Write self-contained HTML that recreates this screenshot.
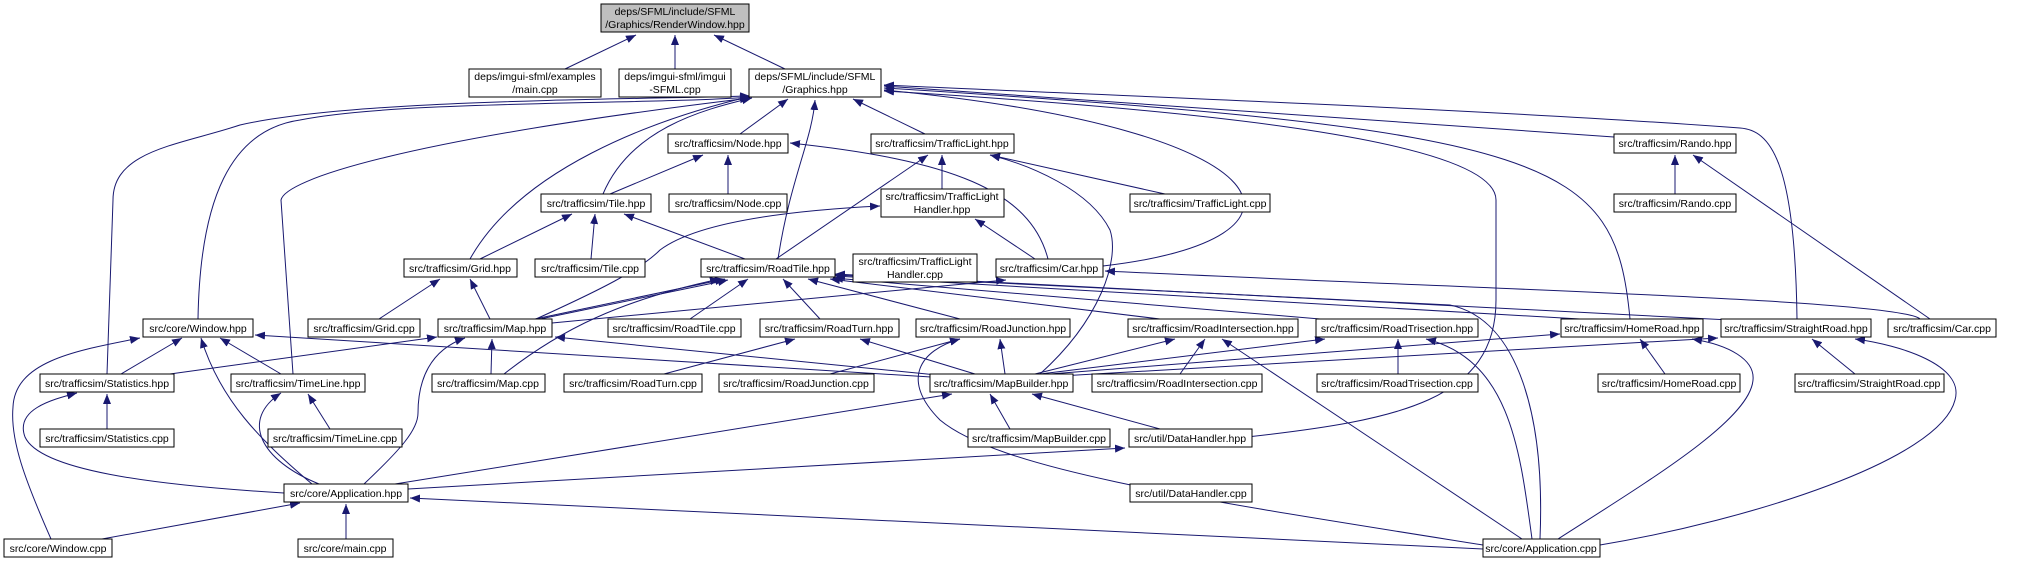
<!DOCTYPE html>
<html><head><meta charset="utf-8"><style>
html,body{margin:0;padding:0;background:#fff;}
svg{display:block;}
text{font-family:"Liberation Sans",sans-serif;font-size:10.5px;fill:#000;}
.b{fill:#fff;stroke:#000;stroke-width:1;}
.e{fill:none;stroke:#191970;stroke-width:1;}
</style></head><body>
<svg width="2019" height="562" viewBox="0 0 2019 562" xmlns="http://www.w3.org/2000/svg">
<defs><marker id="a" markerUnits="userSpaceOnUse" markerWidth="12" markerHeight="10" refX="10" refY="4" orient="auto"><path d="M0,0 L10,4 L0,8 z" fill="#191970"/></marker></defs>
<g class="e" marker-end="url(#a)">
<path d="M565,69 L636,35"/><path d="M675,69 L675,35"/><path d="M785,69 L714,35"/>
<path d="M740,134 L788,99"/><path d="M925,134 L853,99"/>
<path d="M603,194 C630,130 700,110 752,98"/>
<path d="M470,259 C520,170 650,120 752,96"/>
<path d="M778,259 C790,180 812,140 815,100"/>
<path d="M1103,266 C1330,240 1300,130 884,90"/>
<path d="M1614,137 L884,86"/>
<path d="M1630,319 C1615,160 1560,130 884,88"/>
<path d="M1797,319 C1795,160 1770,130 1740,128 C1500,110 1100,95 884,85"/>
<path d="M1247,437 C1400,420 1496,400 1496,300 L1496,200 C1496,140 1200,110 884,91"/>
<path d="M107,374 L113,200 C113,150 180,145 240,125 C350,100 600,100 750,96"/>
<path d="M198,319 C200,200 230,130 300,120 C400,100 650,105 750,97"/>
<path d="M293,374 L281,200 C285,180 400,140 750,98"/>
<path d="M610,194 L703,155"/><path d="M728,194 L728,155"/>
<path d="M1048,259 C1030,190 950,160 790,143"/>
<path d="M942,189 L942,155"/><path d="M1165,194 L990,155"/>
<path d="M776,259 L928,155"/>
<path d="M1040,374 C1100,320 1120,260 1110,230 C1090,190 1030,165 990,155"/>
<path d="M1035,259 L975,219"/>
<path d="M536,319 C600,290 640,270 660,250 C700,220 800,210 880,206"/>
<path d="M552,323 L1006,280"/>
<path d="M1920,319 C1900,300 1500,290 1105,271"/>
<path d="M1930,319 L1693,155"/><path d="M1675,194 L1675,155"/>
<path d="M480,259 L572,214"/><path d="M591,259 L595,214"/><path d="M745,259 L624,214"/>
<path d="M535,319 L725,279"/><path d="M540,319 L728,280"/>
<path d="M504,374 C560,330 620,300 720,279"/>
<path d="M690,319 L748,279"/><path d="M820,319 L783,279"/>
<path d="M960,319 L808,279"/><path d="M1160,319 L830,279"/>
<path d="M1320,319 L833,278"/><path d="M1580,319 L835,276"/>
<path d="M1730,320 L835,274"/>
<path d="M1540,539 C1545,420 1520,320 1450,305 L835,275"/>
<path d="M1522,539 L1222,339"/>
<path d="M1532,539 C1520,450 1510,360 1426,339"/>
<path d="M1483,545 C1200,500 1000,470 940,420 C900,380 920,350 960,339"/>
<path d="M1483,549 L410,498"/>
<path d="M395,484 L952,394"/>
<path d="M408,489 L1125,448"/>
<path d="M1010,429 L990,394"/><path d="M1160,429 L1032,394"/>
<path d="M1035,374 L1175,339"/><path d="M1180,374 L1205,339"/>
<path d="M1040,374 L1325,339"/><path d="M1398,374 L1398,339"/>
<path d="M1050,374 L1560,334"/><path d="M1665,374 L1640,339"/>
<path d="M1060,376 L1718,338"/><path d="M1855,374 L1812,339"/>
<path d="M1558,539 C1650,480 1750,420 1753,380 C1755,360 1730,345 1692,339"/>
<path d="M1600,545 C1750,520 1940,460 1955,400 C1965,365 1900,345 1855,339"/>
<path d="M664,374 L795,339"/><path d="M975,374 L860,339"/>
<path d="M830,374 L960,339"/><path d="M1005,374 L1000,339"/>
<path d="M491,374 L492,339"/><path d="M170,374 L437,337"/>
<path d="M364,484 C400,450 418,430 418,413 C418,380 430,350 465,338"/>
<path d="M937,375 L555,337"/>
<path d="M931,377 L255,335"/>
<path d="M121,374 L182,338"/><path d="M281,374 L220,338"/>
<path d="M312,484 C260,440 220,400 201,338"/>
<path d="M51,539 C25,480 10,440 13,407 C15,360 80,350 140,338"/>
<path d="M379,319 L440,279"/><path d="M490,319 L470,279"/>
<path d="M107,429 L107,394"/>
<path d="M284,493 C150,485 40,470 25,437 C15,410 50,400 77,393"/>
<path d="M330,429 L308,394"/>
<path d="M319,484 C260,460 240,420 281,393"/>
<path d="M346,539 L346,504"/><path d="M102,539 L300,503"/>
</g>
<g>
<rect class="b" x="601" y="4" width="148" height="28" style="fill:#bfbfbf"/>
<text x="675" y="15" text-anchor="middle">deps/SFML/include/SFML</text><text x="675" y="28" text-anchor="middle">/Graphics/RenderWindow.hpp</text>
<rect class="b" x="469" y="69" width="132" height="28"/><text x="535" y="80" text-anchor="middle">deps/imgui-sfml/examples</text><text x="535" y="93" text-anchor="middle">/main.cpp</text>
<rect class="b" x="619" y="69" width="112" height="28"/><text x="675" y="80" text-anchor="middle">deps/imgui-sfml/imgui</text><text x="675" y="93" text-anchor="middle">-SFML.cpp</text>
<rect class="b" x="749" y="69" width="132" height="28"/><text x="815" y="80" text-anchor="middle">deps/SFML/include/SFML</text><text x="815" y="93" text-anchor="middle">/Graphics.hpp</text>
<rect class="b" x="881" y="189" width="123" height="28"/><text x="942" y="200" text-anchor="middle">src/trafficsim/TrafficLight</text><text x="942" y="213" text-anchor="middle">Handler.hpp</text>
<rect class="b" x="853" y="254" width="124" height="28"/><text x="915" y="265" text-anchor="middle">src/trafficsim/TrafficLight</text><text x="915" y="278" text-anchor="middle">Handler.cpp</text>
</g>
<g id="n"></g>
<g>
<rect class="b" x="668" y="134" width="120" height="19"/><text x="728" y="147" text-anchor="middle">src/trafficsim/Node.hpp</text>
<rect class="b" x="871" y="134" width="143" height="19"/><text x="942" y="147" text-anchor="middle">src/trafficsim/TrafficLight.hpp</text>
<rect class="b" x="1614" y="134" width="122" height="19"/><text x="1675" y="147" text-anchor="middle">src/trafficsim/Rando.hpp</text>
<rect class="b" x="541" y="194" width="110" height="18"/><text x="596" y="207" text-anchor="middle">src/trafficsim/Tile.hpp</text>
<rect class="b" x="669" y="194" width="118" height="18"/><text x="728" y="207" text-anchor="middle">src/trafficsim/Node.cpp</text>
<rect class="b" x="1130" y="194" width="140" height="18"/><text x="1200" y="207" text-anchor="middle">src/trafficsim/TrafficLight.cpp</text>
<rect class="b" x="1614" y="194" width="122" height="18"/><text x="1675" y="207" text-anchor="middle">src/trafficsim/Rando.cpp</text>
<rect class="b" x="404" y="259" width="113" height="18"/><text x="460" y="272" text-anchor="middle">src/trafficsim/Grid.hpp</text>
<rect class="b" x="535" y="259" width="110" height="18"/><text x="590" y="272" text-anchor="middle">src/trafficsim/Tile.cpp</text>
<rect class="b" x="701" y="259" width="134" height="18"/><text x="768" y="272" text-anchor="middle">src/trafficsim/RoadTile.hpp</text>
<rect class="b" x="996" y="259" width="107" height="18"/><text x="1049" y="272" text-anchor="middle">src/trafficsim/Car.hpp</text>
<rect class="b" x="143" y="319" width="110" height="18"/><text x="198" y="332" text-anchor="middle">src/core/Window.hpp</text>
<rect class="b" x="308" y="319" width="112" height="18"/><text x="364" y="332" text-anchor="middle">src/trafficsim/Grid.cpp</text>
<rect class="b" x="438" y="319" width="114" height="18"/><text x="495" y="332" text-anchor="middle">src/trafficsim/Map.hpp</text>
<rect class="b" x="608" y="319" width="133" height="18"/><text x="674" y="332" text-anchor="middle">src/trafficsim/RoadTile.cpp</text>
<rect class="b" x="760" y="319" width="139" height="18"/><text x="829" y="332" text-anchor="middle">src/trafficsim/RoadTurn.hpp</text>
<rect class="b" x="916" y="319" width="154" height="18"/><text x="993" y="332" text-anchor="middle">src/trafficsim/RoadJunction.hpp</text>
<rect class="b" x="1128" y="319" width="170" height="18"/><text x="1213" y="332" text-anchor="middle">src/trafficsim/RoadIntersection.hpp</text>
<rect class="b" x="1316" y="319" width="162" height="18"/><text x="1397" y="332" text-anchor="middle">src/trafficsim/RoadTrisection.hpp</text>
<rect class="b" x="1561" y="319" width="142" height="18"/><text x="1632" y="332" text-anchor="middle">src/trafficsim/HomeRoad.hpp</text>
<rect class="b" x="1721" y="319" width="150" height="18"/><text x="1796" y="332" text-anchor="middle">src/trafficsim/StraightRoad.hpp</text>
<rect class="b" x="1888" y="319" width="108" height="18"/><text x="1942" y="332" text-anchor="middle">src/trafficsim/Car.cpp</text>
<rect class="b" x="40" y="374" width="134" height="18"/><text x="107" y="387" text-anchor="middle">src/trafficsim/Statistics.hpp</text>
<rect class="b" x="231" y="374" width="134" height="18"/><text x="298" y="387" text-anchor="middle">src/trafficsim/TimeLine.hpp</text>
<rect class="b" x="432" y="374" width="113" height="18"/><text x="488" y="387" text-anchor="middle">src/trafficsim/Map.cpp</text>
<rect class="b" x="564" y="374" width="138" height="18"/><text x="633" y="387" text-anchor="middle">src/trafficsim/RoadTurn.cpp</text>
<rect class="b" x="719" y="374" width="155" height="18"/><text x="796" y="387" text-anchor="middle">src/trafficsim/RoadJunction.cpp</text>
<rect class="b" x="930" y="374" width="143" height="18"/><text x="1001" y="387" text-anchor="middle">src/trafficsim/MapBuilder.hpp</text>
<rect class="b" x="1092" y="374" width="170" height="18"/><text x="1177" y="387" text-anchor="middle">src/trafficsim/RoadIntersection.cpp</text>
<rect class="b" x="1317" y="374" width="161" height="18"/><text x="1397" y="387" text-anchor="middle">src/trafficsim/RoadTrisection.cpp</text>
<rect class="b" x="1598" y="374" width="142" height="18"/><text x="1669" y="387" text-anchor="middle">src/trafficsim/HomeRoad.cpp</text>
<rect class="b" x="1795" y="374" width="149" height="18"/><text x="1869" y="387" text-anchor="middle">src/trafficsim/StraightRoad.cpp</text>
<rect class="b" x="40" y="429" width="134" height="18"/><text x="107" y="442" text-anchor="middle">src/trafficsim/Statistics.cpp</text>
<rect class="b" x="268" y="429" width="134" height="18"/><text x="335" y="442" text-anchor="middle">src/trafficsim/TimeLine.cpp</text>
<rect class="b" x="968" y="429" width="142" height="18"/><text x="1039" y="442" text-anchor="middle">src/trafficsim/MapBuilder.cpp</text>
<rect class="b" x="1129" y="429" width="123" height="18"/><text x="1190" y="442" text-anchor="middle">src/util/DataHandler.hpp</text>
<rect class="b" x="1130" y="484" width="122" height="18"/><text x="1191" y="497" text-anchor="middle">src/util/DataHandler.cpp</text>
<rect class="b" x="284" y="484" width="124" height="18"/><text x="346" y="497" text-anchor="middle">src/core/Application.hpp</text>
<rect class="b" x="4" y="539" width="108" height="18"/><text x="58" y="552" text-anchor="middle">src/core/Window.cpp</text>
<rect class="b" x="298" y="539" width="95" height="18"/><text x="345" y="552" text-anchor="middle">src/core/main.cpp</text>
<rect class="b" x="1483" y="539" width="117" height="18"/><text x="1541" y="552" text-anchor="middle">src/core/Application.cpp</text>
</g>
</svg>
</body></html>
